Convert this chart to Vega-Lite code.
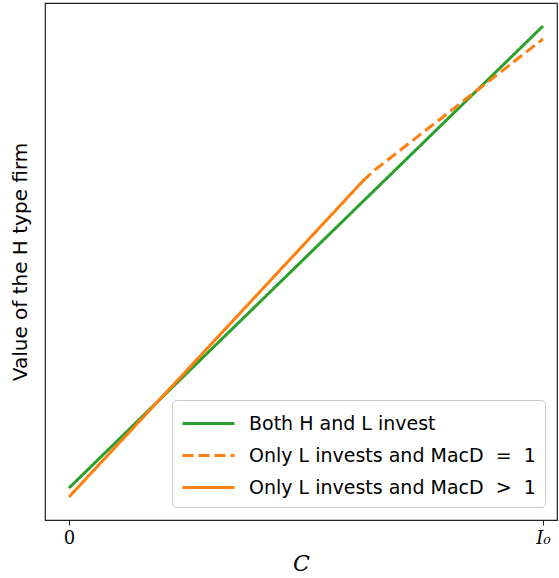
{
  "$schema": "https://vega.github.io/schema/vega-lite/v6.json",
  "width": 512,
  "height": 517,
  "autosize": {"type": "none"},
  "padding": {"left": 45, "top": 3, "right": 2, "bottom": 58},
  "config": {
    "view": {"stroke": "#222", "strokeWidth": 1.2},
    "font": "DejaVu Sans"
  },
  "data": {
    "values": [
      {"series": "Both H and L invest", "x": 0, "y": 32},
      {"series": "Both H and L invest", "x": 1, "y": 494},
      {"series": "Only L invests and MacD = 1", "x": 0.62, "y": 339},
      {"series": "Only L invests and MacD = 1", "x": 0.645, "y": 350},
      {"series": "Only L invests and MacD = 1", "x": 1, "y": 481},
      {"series": "Only L invests and MacD > 1", "x": 0, "y": 23},
      {"series": "Only L invests and MacD > 1", "x": 0.624, "y": 341}
    ]
  },
  "mark": {"type": "line", "strokeWidth": 3, "clip": true},
  "encoding": {
    "x": {
      "field": "x", "type": "quantitative",
      "scale": {"domain": [-0.0506, 1.0295], "nice": false, "zero": false},
      "axis": {
        "values": [0, 1],
        "labelExpr": "datum.value == 0 ? '0' : 'I₀'",
        "labelFont": "DejaVu Serif",
        "labelFontSize": 18,
        "labelFontStyle": {"condition": {"test": "datum.value == 1", "value": "italic"}, "value": "normal"},
        "labelColor": "#000",
        "labelPadding": 4,
        "tickColor": "#222",
        "tickSize": 5,
        "grid": false,
        "domain": false,
        "title": "C",
        "titleFont": "DejaVu Serif",
        "titleFontStyle": "italic",
        "titleFontWeight": "normal",
        "titleFontSize": 22,
        "titleColor": "#000",
        "titlePadding": 6
      }
    },
    "y": {
      "field": "y", "type": "quantitative",
      "scale": {"domain": [0, 517], "nice": false, "zero": false},
      "axis": {
        "labels": false,
        "ticks": false,
        "grid": false,
        "domain": false,
        "title": "Value of the H type firm",
        "titleFont": "DejaVu Sans",
        "titleFontWeight": "normal",
        "titleFontSize": 20,
        "titleColor": "#000",
        "titlePadding": 15
      }
    },
    "color": {
      "field": "series", "type": "nominal",
      "scale": {
        "domain": ["Both H and L invest", "Only L invests and MacD = 1", "Only L invests and MacD > 1"],
        "range": ["#2ca02c", "#ff7f0e", "#ff7f0e"]
      },
      "legend": {
        "title": null,
        "orient": "none",
        "legendX": 127,
        "legendY": 397,
        "symbolType": "M-1,0H3",
        "symbolSize": 676,
        "symbolStrokeWidth": 3,
        "labelFont": "DejaVu Sans",
        "labelFontSize": 19,
        "labelColor": "#000",
        "labelOffset": 39,
        "labelExpr": "replace(replace(datum.label, ' = ', '\u00a0\u00a0=\u00a0\u00a0'), ' > ', '\u00a0\u00a0>\u00a0\u00a0')",
        "rowPadding": 7,
        "padding": 9,
        "strokeColor": "#ccc",
        "fillColor": "rgba(255,255,255,0.85)",
        "cornerRadius": 4,
        "labelLimit": 400
      }
    },
    "strokeDash": {
      "field": "series", "type": "nominal",
      "scale": {
        "domain": ["Both H and L invest", "Only L invests and MacD = 1", "Only L invests and MacD > 1"],
        "range": [[1, 0], [11, 5], [1, 0]]
      }
    },
    "order": {"field": "x", "type": "quantitative"}
  }
}
